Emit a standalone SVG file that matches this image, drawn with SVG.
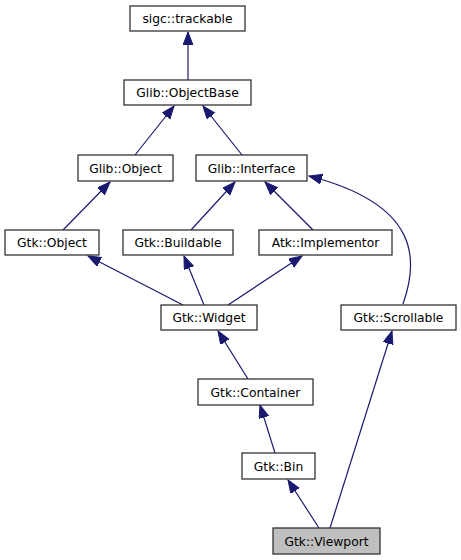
<svg xmlns="http://www.w3.org/2000/svg" width="461" height="560" viewBox="0 0 461 560">
<style>
.n rect{fill:#ffffff;stroke:#333333;stroke-width:1.3}
.n.cur rect{fill:#bfbfbf}
.n text{font-family:"DejaVu Sans",sans-serif;font-size:12.3px;text-anchor:middle;fill:#000}
.e path{fill:none;stroke:#191970;stroke-width:1.2;marker-end:url(#ah)}
</style>
<defs>
<marker id="ah" markerUnits="userSpaceOnUse" markerWidth="16" markerHeight="12" refX="13" refY="5" orient="auto">
<path d="M0,0 L13,5 L0,10 Z" fill="#191970" stroke="#191970" stroke-width="1"/>
</marker>
</defs>
<rect width="461" height="560" fill="#ffffff"/>
<g class="e" id="connectors">
<path d="M188,80 L188,32"/>
<path d="M135,155 L174,106"/>
<path d="M242,155 L203,106"/>
<path d="M63,230 L110,182"/>
<path d="M191,230 L235,182"/>
<path d="M313,230 L265,182"/>
<path d="M403,304 C418,262 422,205 309,176"/>
<path d="M183,305 L88,256"/>
<path d="M204,305 L184,256"/>
<path d="M228,305 L302,256"/>
<path d="M248,379 L218,331"/>
<path d="M275,453 L260,405"/>
<path d="M319,528 L288,480"/>
<path d="M330,528 L392,331"/>
</g>
<g class="n" id="sigc_trackable"><rect x="130" y="6" width="115" height="25"/><text x="187.5" y="23">sigc::trackable</text></g>
<g class="n" id="Glib_ObjectBase"><rect x="124" y="80" width="127" height="25"/><text x="187.5" y="97">Glib::ObjectBase</text></g>
<g class="n" id="Glib_Object"><rect x="78" y="155" width="95" height="26"/><text x="125.5" y="172.5">Glib::Object</text></g>
<g class="n" id="Glib_Interface"><rect x="196" y="155" width="111" height="26"/><text x="251.5" y="172.5">Glib::Interface</text></g>
<g class="n" id="Gtk_Object"><rect x="5" y="230" width="94" height="25"/><text x="52" y="247">Gtk::Object</text></g>
<g class="n" id="Gtk_Buildable"><rect x="123" y="230" width="110" height="25"/><text x="178" y="247">Gtk::Buildable</text></g>
<g class="n" id="Atk_Implementor"><rect x="259" y="230" width="133" height="25"/><text x="325.5" y="247">Atk::Implementor</text></g>
<g class="n" id="Gtk_Widget"><rect x="161" y="305" width="96" height="25"/><text x="209" y="322">Gtk::Widget</text></g>
<g class="n" id="Gtk_Scrollable"><rect x="341" y="305" width="115" height="25"/><text x="398.5" y="322">Gtk::Scrollable</text></g>
<g class="n" id="Gtk_Container"><rect x="198" y="379" width="115" height="26"/><text x="255.5" y="396.5">Gtk::Container</text></g>
<g class="n" id="Gtk_Bin"><rect x="242" y="453" width="73" height="26"/><text x="278.5" y="470.5">Gtk::Bin</text></g>
<g class="n cur" id="Gtk_Viewport"><rect x="273" y="528" width="107" height="26"/><text x="326.5" y="545.5">Gtk::Viewport</text></g>
</svg>
